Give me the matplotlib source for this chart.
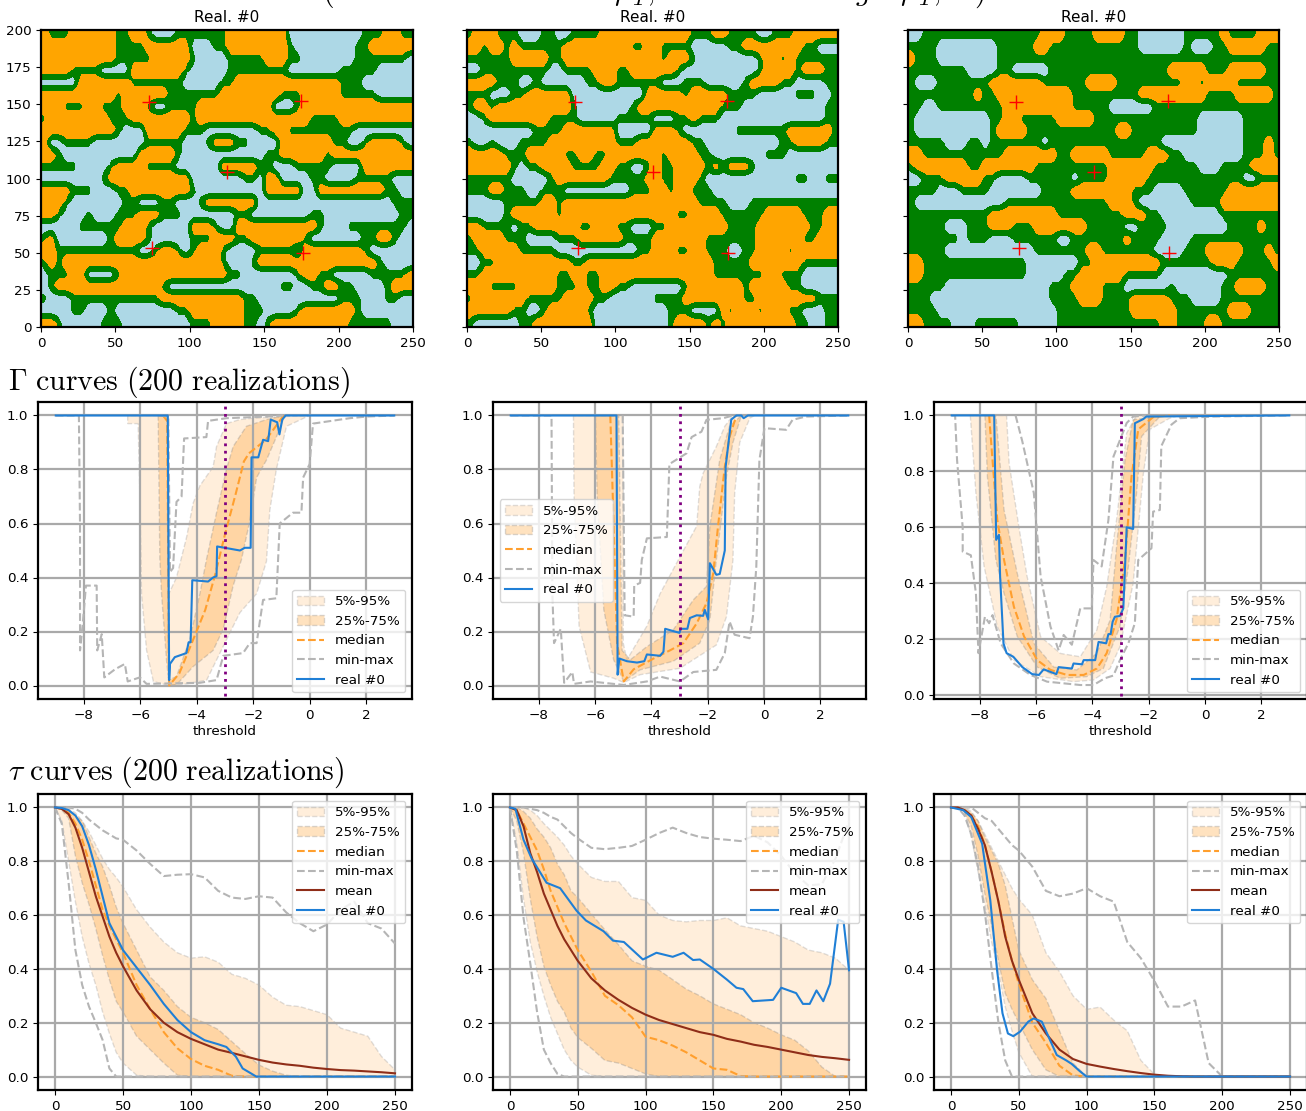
import numpy as np
import matplotlib
matplotlib.use('Agg')
import matplotlib.pyplot as plt

plt.rcParams['mathtext.fontset'] = 'cm'
plt.rcParams['font.size'] = 9.7

W, H = 1306, 1111

# facies maps, 50 columns x 25 rows from the top, o=orange g=green b=blue
map_1 = [
    "ogggoooooo ggoogbbbgg gggggooooo ooobbbbbbb bbbgggoogg",
    "oooooooooo ggggoooooo bbbggooooo ooogbbbbbb bbggoooooo",
    "oooooooooo gggggooooo gbbbbggggg oooggbbbbb bbgggggggb",
    "ooooggggbb bbooooooog bbbbbggggg gggbbbbbbb gggggbbbbb",
    "bbbbbooooo oogggggggb bbbbggoooo oooooooooo gggbbbbbbb",
    "oooooooooo gooooooggg ggggoooooo oogggooooo gggggbbbbb",
    "ooogggoogg gooogbbggg gooooooooo obbbgooooo oooooooooo",
    "goooooooog ggoooooooo gooooooooo oooooogggg oooooooooo",
    "oooooooooo gbbbooooog ggbbbbbbbg googgggggg ggbbbbbbbb",
    "obbggggbbb bbbbgggggb bbgoooggbb bbooooooog gbbgoooogb",
    "oogbbbbbbb bbbooooogb bbbbbbbbbb ggoooooogo oooooooooo",
    "gggggbbbbg ooooggggbb bbbbooooog gbbbgggggb bbbooooooo",
    "bbbbbbbbgo oooooooooo bbbbbbbggb oobbbbggbb bbgggggbbb",
    "oooogggbbb ggoooooooo gbbbbbbbbb ooooobbooo ooooooggbb",
    "ooogbbbbbb bggbbbggbb bgooooooob bbbbbbbbbb bbbbbbbggg",
    "oogbbbgbbb gggooogggb bbbbbbggbb bbbbbbggbb bbbbbbbbgg",
    "bbbbbggggg gooogbbbbb ooogbboooo ooooooogbb bggggggggb",
    "gobbbbbbbg oooogbbbbb gggoooggoo ooooogbbbb bbbggoogbb",
    "oogggggggg gggbbgoogb gooogbbbbg ggggbooooo ooogbbbbbb",
    "gogooooooo oooooooooo oooogbbbgo oooooooooo ooooogbbbb",
    "bgggoobbbb gooooooooo oooooggbbb bbbbgooggb bbbbgggggo",
    "bgoooooooo oooooogbbb bbbbbbbbbb bbggbbggoo ggbbbbgooo",
    "gbbbgggggg ggggggoooo oooooooggb bbbbbbbbbb gggbbbggbb",
    "bbbbggbbbg bbbbbbbbgg oooooooggg bbbbgooooo oogbbbbbbb",
    "oogbbbbbgg gbbbbbbbbb gggooooggb gooooooooo oggggggbbb",
]
map_2 = [
    "gooogggbbb ggbbggggoo oooooooooo gggooggggb bgggoooooo",
    "oogoogoggg gggooooooo ooggoogggg bbbbbggooo oooooggbbb",
    "ggggggoooo oggooooooo oooooogooo gbbbbbbbbg oogogggggg",
    "bbgggggggg gbbggggooo ggoooooogb bbbbbbbbbg oooogooogg",
    "oooogggbbg bbbbbbggoo ggggggbbbg ggbbbbbgoo ooggbbbbgg",
    "gggbbbggoo oooobbbbbb bbbbooooog oooooggggb bbbbgggbbg",
    "googoooooo oooogbbbbb bbgooooooo oooogggbbb bbbbbbbbgg",
    "bbgooooooo oggggbbbbb gggggbbbgg ogggbbbbbb bbbbbbbbgg",
    "bbbbbbbbbg gggooooooo bbbbbooogb bbbbbbgggg gggoooooog",
    "gbbgbbbggg gooooooooo gggooooooo ggbbbbbbbb bbggoooogg",
    "ooooogggoo oooggooggo oooooogooo oggbbbbbbb gggbbbbbbb",
    "oooooogbgg ooooggggoo ggbbgoggoo oogogooogb bbbbbbbbbb",
    "ggggggbbbb bgooooooog ggggooggoo ogbbbbbbbb bbbbggbbgg",
    "gggoogggbb gggbbbbbbb bbgggoogoo gggbbbbbbb bbbbbbbbbb",
    "bbbbbggggg oogooooooo oooooooooo oggggbbbgg gggggggggg",
    "bbbbbgoooo oogooooooo oooooooogg oooogggggg ooooogggoo",
    "ooggggbggo oooooggooo ggbbbggooo oooooggggo ooooooggoo",
    "goooogggbb bbgggooooo oggggooooo oogggggggo oooooggooo",
    "ggoooooggg ggbbbbbbbb bbbggooogg oogggbbggo ooogoooooo",
    "bbggoooooo ooooggoooo oooooooooo ooogggggoo oooooggggg",
    "ggoooooooo ooggooggoo oooooooooo oooggggggg oogggbbbbb",
    "oooggggooo oogggoggoo ggbbbbbbbg ooooooogoo oooggbbbbb",
    "gooooooogg gggooooggb bbbbbggggo oooooooggo oooooooggg",
    "ooooooggbb gooooogbbb bbbbbbbggg bbbbogooog oooggbbbgg",
    "gbbbbbbggo ooooooobbb bbbbbbbgoo oogogooooo ooooggbbgg",
]
map_3 = [
    "bbgggggggg ggggggggoo oggggoooog gbbbbbbggg ggoggggooo",
    "ggggbbbbbb bbgggggoog gggggggggg gbbbbbbgbb bggooooogg",
    "ogggbbbbbb bbgggggggg gggggggggg gggggggggg gggggggggg",
    "ggggggggbb bbggbbbbbg gggggggggg gggggooooo gggooooogg",
    "gbbbgggggg gooooooogg ggggoooogg gggggggoog oooogggggg",
    "gggggggggo ggoooooooo oogggggggg gooooooooo ggggooooog",
    "ggbbgggggg gggooooooo oogggggbbb bbbggggggg gggggggggg",
    "gbbbbbbbbb bggooggggg oooooggggg gggggggggb bbbbbggggg",
    "gbbbbbbbbb bgoooogggg ggggggggoo gggggggggb bbbbbggggg",
    "gggggbbbgg bgggggggbg gggggggggg ggggbbbbbb bbbbbgggog",
    "oogggggggg gggooooooo ggoooooggg ggoooggbbb bbbbbgggog",
    "gooooooogg oooooooggg gggggggooo oooggggggb bbggggoooo",
    "bbgggooooo ggbbbbgggg ggbggggooo oogggggggg gggggbbggg",
    "ggggbbbggg gbbbbbbbgg ggoooooooo gggbbbbggg gggooooooo",
    "gbbbbbbbbb bbbggggggg gggggggooo gbbbbbbbgg ggoooooooo",
    "gggggggggg gooooooooo gggggggggo ooggbbbbbb bbgggggggg",
    "gggggbbbgg gooogggooo oooogggggb bggggbbbbb bbbggggogg",
    "gggggggbgg gbbbgggggg bbgggggggo ggggbbbbgg gggggggggg",
    "gggggbbbbb bbbbbbbggg ggggoogggg gggbbbbggg ooooogggog",
    "oogggggggg ggggggbbbb bbbggooooo oooogggggg gooogggggo",
    "oogggggggg ggggggbbbb bggoooooog ggggbbbbbb bbbggggggg",
    "gggggbbbbb bbbbbbbbbg ggoooogggb bbbbbgbbbb bbggoooogg",
    "gggbbbbbbb bbbbbbbbbg gggooogggg ooooogggbb bbgggggggg",
    "ggggbbbbbb bbbbbbbbbb gggggggggg oooooogggg gggooogggg",
    "ooggggbbbg gggggbbbbb gggggggggg ggggoogggg oogggggggg",
]
# conditioning points
points_x = [72.5, 175, 125, 74.5, 176]
points_y = [151.5, 152.5, 104.5, 53, 49.5]

# Gamma curves, thresholds are the x values
g1_real_x = [-9,-5.03,-4.98,-4.95,-4.78,-4.37,-4.29,-4.22,-4.16,-3.6,-3.42,-3.3,-3.28,-2.47,-2.3,-2.09,-2.06,-1.82,-1.65,-1.47,-1.38,-1.15,-1.07,-.97,-.85,3]
g1_real_y = [1,1,.02,.08,.105,.12,.16,.16,.39,.385,.40,.405,.515,.50,.51,.51,.845,.845,.91,.905,.985,.975,.93,.985,1,1]
g1_med_x = [-5.2,-5.05,-4.98,-4.62,-4.05,-3.7,-3.35,-3.0,-2.62,-2.33,-2.15,-1.55,-1.2,-.92]
g1_med_y = [1,.98,0,.045,.19,.28,.41,.56,.71,.83,.86,.91,.96,1]
g1_min_x = [-9,-8.18,-8.14,-8.14,-8.05,-7.93,-7.55,-7.53,-7.37,-7.28,-6.9,-6.55,-6.45,-6.02,-5.78,-3.89,-3.3,-3.06,-2.36,-2.12,-1.88,-1.65,-1.18,-1.06,-.59,-.29,-.23,0,.12,1.42,2.01,3]
g1_min_y = [1,1,.59,.13,.22,.37,.37,.13,.19,.03,.06,.08,.015,.03,.006,.01,.02,.11,.12,.157,.157,.317,.323,.60,.64,.64,.77,.82,.97,.99,.996,1]
g1_max_x = [-5.33,-5.01,-4.95,-4.84,-4.72,-4.54,-4.45,-3.66,-3.6,-2.95,-1.53,-.94]
g1_max_y = [1,.996,.42,.435,.68,.70,.915,.92,.98,.99,.996,1]
g1_outer_x = [-6.45,-6.45,-6.08,-6.02,-5.96,-5.78,-5.54,-5.0,-4.36,-3.65,-3.18,-2.9,-2.47,-1.88,-1.53,-1.41,-1.18,-.82,0,-.94,-2,-2.47,-2.95,-3.3,-3.42,-3.89,-4.13,-4.36,-4.72,-4.99,-5.01]
g1_outer_y = [1,.97,.97,.71,.34,.13,.015,0,.006,.02,.12,.18,.27,.34,.46,.65,.80,.96,1,.996,.99,.985,.97,.885,.81,.74,.675,.55,.40,.34,1]
g1_inner_x = [-5.37,-5.31,-5.25,-5.07,-4.98,-4.72,-4.13,-3.42,-3.06,-2.71,-2.42,-2.12,-1.88,-1.53,-1.18,-.88,-1.53,-2.24,-2.71,-2.95,-3.3,-3.66,-3.89,-4.25,-4.72,-5.01,-5.01]
g1_inner_y = [1,.47,.34,.09,0,.0025,.07,.13,.21,.37,.465,.61,.77,.835,.92,1,.985,.96,.885,.80,.64,.465,.34,.17,.033,.02,1]

g2_real_x = [-9,-5.24,-5.2,-5.14,-4.87,-4.51,-4.25,-4.16,-3.69,-3.57,-3.51,-3.0,-2.96,-2.72,-2.63,-2.39,-2.16,-2.1,-1.98,-1.92,-1.69,-1.57,-1.39,-1.36,-1.16,-.98,-.8,-.72,-.57,3]
g2_real_y = [1,1,.04,.10,.09,.085,.09,.115,.11,.125,.21,.195,.21,.21,.25,.26,.258,.28,.245,.453,.41,.413,.50,.81,.985,1,1,.99,1,1]
g2_med_x = [-5.46,-5.34,-5.22,-4.98,-4.63,-3.92,-3.34,-2.86,-2.39,-2.04,-1.8,-1.63,-1.39,-1.22,-.98]
g2_med_y = [1,.59,.157,.015,.06,.10,.13,.157,.23,.305,.415,.59,.81,.92,1]
g2_min_x = [-9,-7.55,-7.52,-7.46,-7.22,-7.16,-7.1,-6.81,-6.75,-6.16,-4.98,-4.16,-3.69,-2.98,-2.51,-1.69,-1.39,-1.22,-1.04,-.51,-.39,-.27,-.16,.02,.79,1.02,1.49,3]
g2_min_y = [1,1,.34,.157,.21,.107,.01,.05,.006,.015,.002,.015,.033,.015,.05,.058,.12,.237,.188,.175,.255,.44,.835,.953,.947,.984,.996,1]
g2_max_x = [-5.02,-4.95,-4.63,-4.61,-4.4,-4.34,-4.16,-3.45,-3.36,-2.75,-2.57,-2.22,-2.04,-1.45,-1.1]
g2_max_y = [1,.26,.255,.37,.38,.465,.545,.55,.82,.86,.92,.94,.984,.99,1]
g2_outer_x = [-6.77,-6.75,-6.57,-6.16,-5.34,-4.98,-4.4,-2.98,-1.69,-1.33,-1.1,-1.04,-.86,-.5,-.33,-1.1,-1.39,-1.69,-2.16,-2.28,-2.39,-2.86,-3.69,-4.16,-4.87,-5.0,-5.0]
g2_outer_y = [1,.71,.22,.05,.027,.011,.04,.064,.15,.255,.465,.71,.90,.99,1,1,.96,.885,.786,.737,.59,.50,.34,.22,.095,.157,1]
g2_inner_x = [-5.99,-5.93,-5.69,-5.34,-4.98,-4.4,-3.22,-2.28,-1.92,-1.69,-1.33,-1.1,-.8,-1.22,-1.57,-1.92,-2.04,-2.51,-3.22,-4.16,-4.75,-5.04,-5.16]
g2_inner_y = [1,.71,.28,.095,.015,.058,.09,.157,.243,.465,.774,.90,1,.96,.836,.59,.367,.317,.206,.144,.095,.13,1]

g3_real_x = [-9,-7.49,-7.42,-7.32,-7.28,-7.16,-7.05,-6.81,-6.49,-6.14,-5.9,-5.73,-5.28,-5.2,-4.73,-4.67,-4.37,-4.31,-3.9,-3.78,-3.51,-3.43,-3.35,-3.28,-3.2,-3.02,-2.9,-2.78,-2.55,-2.49,-2.19,-2.08,3]
g3_real_y = [1,1,.555,.573,.424,.185,.15,.137,.10,.075,.072,.092,.075,.10,.095,.113,.11,.125,.125,.19,.185,.218,.218,.262,.28,.283,.31,.60,.594,.972,.987,.996,1]
g3_med_x = [-7.67,-7.55,-7.38,-7.14,-6.79,-6.43,-5.96,-5.49,-4.9,-4.31,-3.84,-3.49,-3.14,-2.84,-2.61,-2.37,-1.84,-1.25]
g3_med_y = [1,.84,.626,.483,.316,.21,.125,.09,.072,.072,.095,.15,.27,.483,.78,.95,.994,1]
g3_min_x = [-9,-8.88,-8.81,-8.61,-8.61,-8.32,-8.14,-8.05,-7.82,-7.67,-7.55,-7.26,-6.79,-6.2,-5.61,-4.43,-3.96,-3.56,-3.25,-3.02,-2.72,-2.49,-2.37,-1.9,-1.84,-1.6,-1.55,-1.19,-.9,.28,3]
g3_min_y = [1,1,.84,.60,.513,.50,.364,.15,.28,.257,.286,.185,.113,.072,.048,.036,.036,.06,.07,.125,.185,.257,.483,.525,.656,.662,.89,.967,.99,.996,1]
g3_max_x = [-6.73,-6.49,-6.08,-5.84,-5.49,-5.2,-5.02,-4.73,-4.43,-4.02,-3.96,-3.67,-3.43,-3.25,-2.78,-2.55,-2.08]
g3_max_y = [1,.907,.722,.424,.245,.16,.215,.18,.31,.31,.483,.46,.626,.853,.973,.996,1]
g3_outer_x = [-8.34,-8.14,-7.85,-7.38,-6.79,-5.84,-4.67,-3.96,-3.37,-3.02,-2.55,-2.19,-1.96,-1.25,-.9,-2.43,-2.78,-3.14,-3.49,-3.84,-4.43,-5.14,-5.84,-6.32,-6.61,-6.96,-7.05]
g3_outer_y = [1,.722,.46,.245,.125,.066,.048,.054,.095,.173,.40,.79,.95,.99,1,1,.937,.626,.388,.233,.137,.149,.209,.424,.60,.83,1]
g3_inner_x = [-7.82,-7.73,-7.43,-7.14,-6.67,-5.96,-5.14,-4.2,-3.61,-3.02,-2.72,-2.43,-2.25,-1.6,-2.55,-2.84,-3.14,-3.37,-3.84,-4.55,-5.37,-6.08,-6.67,-7.14,-7.43]
g3_inner_y = [1,.78,.483,.364,.21,.10,.06,.066,.095,.245,.46,.722,.925,.996,.985,.84,.53,.268,.15,.09,.10,.185,.435,.662,1]

# tau curves, x is the lag
tau_x = [0,5,10,15,20,25,30,35,40,45,50,60,70,80,90,100,110,120,130,140,150,160,170,180,190,200,210,220,230,240,250]

def pad(v):
    return v + [0] * (len(tau_x) - len(v))

t1_mean = [1,.995,.975,.925,.85,.76,.67,.595,.52,.46,.41,.32,.25,.2,.165,.14,.12,.10,.088,.075,.062,.052,.045,.04,.033,.028,.024,.022,.019,.016,.012]
t1_med = pad([1,.995,.98,.94,.88,.8,.71,.62,.56,.51,.46,.34,.25,.165,.105,.065,.04,.025,.003])
t1_p5 = pad([1,.95,.8,.65,.52,.42,.34,.24,.16,.09,.05,.005])
t1_p95 = [1,1,.995,.98,.95,.91,.86,.81,.77,.74,.705,.62,.555,.50,.46,.44,.445,.425,.38,.365,.34,.295,.265,.26,.245,.23,.18,.165,.15,.075,.025]
t1_p25 = pad([1,.99,.96,.82,.72,.64,.55,.45,.36,.28,.24,.15,.10,.05,.005])
t1_p75 = pad([1,1,.99,.97,.95,.89,.83,.78,.71,.63,.57,.47,.37,.32,.26,.22,.2,.175,.13,.085,.043,.02,.005])
t1_min = pad([1,.94,.72,.47,.34,.26,.2,.136,.03])
t1_max = [1,1,1,.995,.98,.955,.935,.915,.90,.885,.88,.84,.79,.745,.75,.752,.74,.69,.665,.66,.67,.665,.61,.57,.54,.565,.62,.65,.57,.55,.494]
t1_real_x = [0,5,10,15,20,25,30,35,40,45,50,60,70,80,90,100,110,120,126,133,138,148,250]
t1_real_y = [1,.998,.99,.97,.93,.86,.77,.67,.57,.52,.47,.405,.34,.27,.21,.165,.135,.12,.11,.074,.03,0,0]

t2_mean = [1,.99,.93,.83,.76,.68,.62,.56,.51,.47,.43,.365,.32,.285,.255,.23,.21,.195,.18,.165,.155,.14,.13,.118,.11,.10,.09,.08,.073,.068,.062]
t2_med = pad([1,.99,.94,.89,.84,.77,.69,.63,.57,.52,.47,.39,.30,.265,.22,.148,.135,.115,.09,.06,.03,.025,.002])
t2_p5 = pad([1,.87,.66,.5,.39,.3,.22,.16,.10,.06,.035,.005])
t2_p95 = [1,1,1,.99,.97,.94,.915,.89,.86,.82,.79,.74,.725,.725,.665,.655,.60,.58,.575,.58,.58,.59,.56,.55,.54,.52,.50,.47,.46,.44,.395]
t2_p25 = pad([1,.95,.83,.66,.52,.41,.34,.28,.24,.18,.145,.105,.06,.05,.03,.01])
t2_p75 = [1,1,.985,.96,.92,.89,.85,.79,.75,.69,.665,.605,.545,.49,.43,.41,.395,.36,.325,.30,.27,.25,.23,.20,.18,.155,.135,.095,.035,0,0]
t2_min = pad([1,.84,.59,.42,.24,.1,.05,.01])
t2_max = [1,1,1,.995,.99,.98,.965,.955,.93,.905,.885,.85,.845,.85,.857,.88,.905,.925,.905,.89,.884,.88,.875,.895,.87,.82,.755,.71,.715,.81,.95]
t2_real_x = [0,4,10,16,27,37,49,56,69,76,84,98,108,120,128,135,140,150,160,167,172,179,194,200,211,216,221,226,231,236,242,246,250]
t2_real_y = [1,.995,.88,.81,.72,.70,.617,.58,.54,.505,.50,.435,.46,.445,.46,.433,.435,.40,.36,.33,.325,.28,.285,.33,.31,.27,.27,.32,.28,.345,.583,.575,.395]

t3_mean = pad([1,1,.99,.97,.92,.86,.76,.65,.52,.43,.36,.235,.16,.10,.065,.047,.037,.028,.02,.013,.007,.003,.001])
t3_med = pad([1,1,.99,.97,.93,.86,.76,.65,.53,.43,.345,.20,.125,.04,.004])
t3_p5 = pad([1,1,.985,.89,.76,.64,.5,.39,.26,.17,.09])
t3_p95 = pad([1,1,1,.985,.95,.90,.85,.80,.75,.70,.66,.60,.46,.39,.30,.25,.258,.21,.17,.06,.008])
t3_p25 = pad([1,1,.98,.93,.82,.68,.56,.43,.31,.25,.2,.1,.025])
t3_p75 = pad([1,1,.995,.98,.95,.89,.84,.79,.71,.59,.47,.36,.29,.17,.05])
t3_min = pad([1,1,.97,.9,.78,.61,.4,.2,.06])
t3_max = pad([1,1,1,1,.98,.96,.95,.92,.89,.86,.84,.78,.69,.67,.68,.70,.67,.65,.50,.44,.355,.26,.26,.283,.05])
t3_real_x = [0,9,15,23,29,34,38,42,46,51,57,61,67,73,78,85,89,95,100,250]
t3_real_y = [1,.99,.964,.865,.655,.395,.235,.16,.15,.167,.204,.216,.204,.136,.08,.06,.047,.02,0,0]


def rect(x0, y0, x1, y1):
    # pixel box (from the top left) to figure fractions
    return [x0 / W, 1 - y1 / H, (x1 - x0) / W, (y1 - y0) / H]


def to_grid(rows):
    table = {'b': 0, 'g': 1, 'o': 2}
    return np.array([[table[c] for c in r.replace(' ', '')] for r in rows], dtype=float)


def rounded(grid, n=4):
    # blow the cells up and blur them a little so the patches get round edges
    big = np.repeat(np.repeat(grid, n, axis=0), n, axis=1)
    k = np.ones(n + 1) / (n + 1)
    big = np.pad(big, n, mode='edge')
    big = np.apply_along_axis(lambda r: np.convolve(r, k, mode='same'), 0, big)
    big = np.apply_along_axis(lambda r: np.convolve(r, k, mode='same'), 1, big)
    return big[n:-n, n:-n]


def style(ax):
    for s in ax.spines.values():
        s.set_linewidth(1.6)
    ax.grid(True, color='darkgray', linewidth=1.6)


band_outer = dict(facecolor=(1, .55, 0, .14), edgecolor=(.5, .5, .5, .25), linestyle='--', linewidth=1)
band_inner = dict(facecolor=(1, .55, 0, .25), edgecolor=(.5, .5, .5, .3), linestyle='--', linewidth=1)
line_med = dict(color='#ff9f2e', linestyle='--', linewidth=1.5)
line_mm = dict(color='#b5b5b5', linestyle='--', linewidth=1.5)
line_real = dict(color='#1f7fd6', linewidth=1.5)

fig = plt.figure(figsize=(W / 100, H / 100), dpi=100)

# top row, maps
map_boxes = [(41, 30, 413, 327), (467, 30, 838, 327), (908, 30, 1279, 327)]
for i, (rows, box) in enumerate(zip([map_1, map_2, map_3], map_boxes)):
    ax = fig.add_axes(rect(*box))
    grid = rounded(to_grid(rows)[::-1])
    xs = np.linspace(0, 250, grid.shape[1])
    ys = np.linspace(0, 200, grid.shape[0])
    ax.contourf(xs, ys, grid, levels=[-1, .62, 1.38, 3], colors=['lightblue', 'green', 'orange'])
    ax.plot(points_x, points_y, '+', color='red', markersize=10, markeredgewidth=1)
    ax.set_xlim(0, 250)
    ax.set_ylim(0, 200)
    ax.set_xticks(range(0, 251, 50))
    ax.set_yticks(range(0, 201, 25))
    if i > 0:
        ax.set_yticklabels([])
    ax.set_title('Real. #0', fontsize=11, pad=6)
    for s in ax.spines.values():
        s.set_linewidth(1.6)

# second row, Gamma curves
gamma_boxes = [(38, 402, 412, 699), (493, 402, 866, 699), (934, 402, 1307, 699)]
gamma_data = [
    (g1_outer_x, g1_outer_y, g1_inner_x, g1_inner_y, g1_med_x, g1_med_y, g1_min_x, g1_min_y, g1_max_x, g1_max_y, g1_real_x, g1_real_y),
    (g2_outer_x, g2_outer_y, g2_inner_x, g2_inner_y, g2_med_x, g2_med_y, g2_min_x, g2_min_y, g2_max_x, g2_max_y, g2_real_x, g2_real_y),
    (g3_outer_x, g3_outer_y, g3_inner_x, g3_inner_y, g3_med_x, g3_med_y, g3_min_x, g3_min_y, g3_max_x, g3_max_y, g3_real_x, g3_real_y),
]
gamma_loc = ['lower right', 'center left', 'lower right']
gamma_ylim = [(-.05, 1.05), (-.05, 1.05), (-.014, 1.048)]
for i in range(3):
    d = gamma_data[i]
    ax = fig.add_axes(rect(*gamma_boxes[i]))
    ax.fill(d[0], d[1], label='5%-95%', **band_outer)
    ax.fill(d[2], d[3], label='25%-75%', **band_inner)
    ax.plot(d[4], d[5], label='median', **line_med)
    ax.plot(d[6], d[7], label='min-max', **line_mm)
    ax.plot(d[8], d[9], **line_mm)
    ax.plot(d[10], d[11], label='real #0', **line_real)
    ax.axvline(-3, ymin=.01, ymax=.99, color='purple', linestyle=':', linewidth=2)
    ax.set_xlim(-9.63, 3.63)
    ax.set_ylim(*gamma_ylim[i])
    ax.set_xlabel('threshold', labelpad=2.5)
    style(ax)
    ax.legend(loc=gamma_loc[i])

# bottom row, tau curves
tau_boxes = [(38, 794, 412, 1090), (493, 794, 866, 1090), (934, 794, 1307, 1090)]
tau_data = [
    (t1_p5, t1_p95, t1_p25, t1_p75, t1_med, t1_min, t1_max, t1_mean, t1_real_x, t1_real_y),
    (t2_p5, t2_p95, t2_p25, t2_p75, t2_med, t2_min, t2_max, t2_mean, t2_real_x, t2_real_y),
    (t3_p5, t3_p95, t3_p25, t3_p75, t3_med, t3_min, t3_max, t3_mean, t3_real_x, t3_real_y),
]
for i in range(3):
    d = tau_data[i]
    ax = fig.add_axes(rect(*tau_boxes[i]))
    ax.fill_between(tau_x, d[0], d[1], label='5%-95%', **band_outer)
    ax.fill_between(tau_x, d[2], d[3], label='25%-75%', **band_inner)
    ax.plot(tau_x, d[4], label='median', **line_med)
    ax.plot(tau_x, d[5], label='min-max', **line_mm)
    ax.plot(tau_x, d[6], **line_mm)
    ax.plot(tau_x, d[7], label='mean', color='#8f2d18', linewidth=1.5)
    ax.plot(d[8], d[9], label='real #0', **line_real)
    ax.set_xlim(-12.5, 262.5)
    ax.set_ylim(-.05, 1.05)
    ax.set_xticks(range(0, 251, 50))
    style(ax)
    ax.legend(loc='upper right')

# section headings, the first one is cut by the top of the page
fig.text(8 / W, 1 - 390 / H, r'$\Gamma\ \mathrm{curves\ (200\ realizations)}$', fontsize=21.5)
fig.text(8 / W, 1 - 780 / H, r'$\tau\ \mathrm{curves\ (200\ realizations)}$', fontsize=21.5)
fig.text(322 / W, 1, r'$($', fontsize=21.5)
fig.text(600 / W, 1, r'$\partial\mu_T,$', fontsize=21.5)
fig.text(855 / W, 1, r'$g\ \ \partial\mu_T,$', fontsize=21.5)
fig.text(974 / W, 1, r'$)$', fontsize=21.5)

fig.savefig('out.png', dpi=100)
